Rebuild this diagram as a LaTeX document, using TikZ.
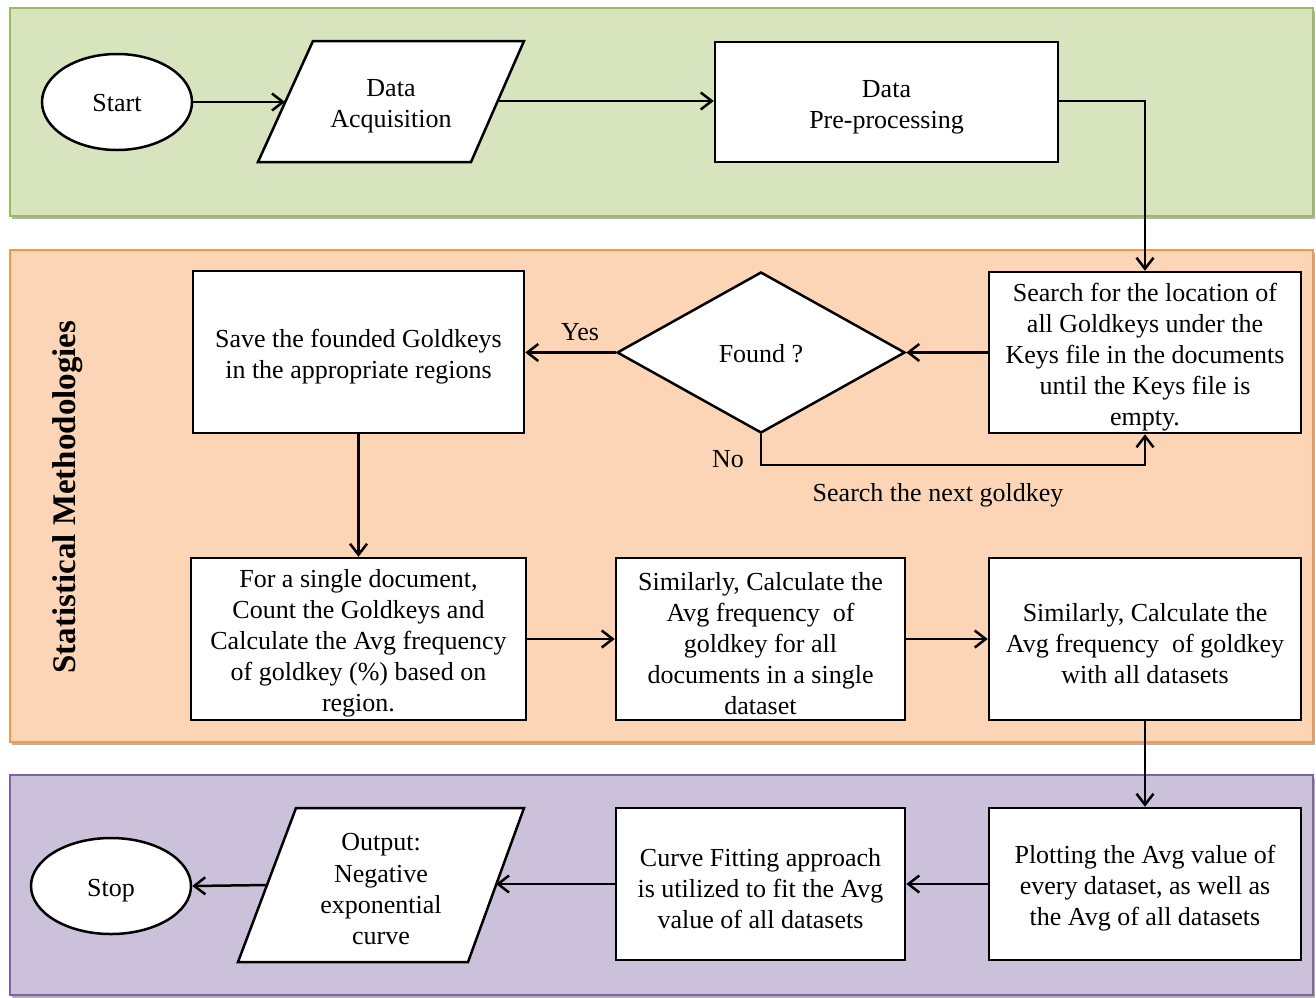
\documentclass[tikz,border=0pt]{standalone}
\usepackage{fontspec}
\setmainfont{Liberation Serif}
\usetikzlibrary{arrows.meta,shapes.geometric,shadows}
\definecolor{gfill}{HTML}{D7E4BD}
\definecolor{gline}{HTML}{9BBB59}
\definecolor{ofill}{HTML}{FBD5B5}
\definecolor{oline}{HTML}{F79646}
\definecolor{pfill}{HTML}{CCC1DA}
\definecolor{pline}{HTML}{8064A2}
\tikzset{
  band/.style={line width=1.5pt, drop shadow={shadow xshift=2pt, shadow yshift=-3pt, opacity=0.3, fill=black}},
  box/.style={draw=black, fill=white, line width=2.5pt, rectangle, inner sep=0pt, align=center, font=\txt},
  term/.style={draw=black, fill=white, line width=2.5pt, ellipse, inner sep=0pt, align=center, font=\txt},
  dec/.style={draw=black, fill=white, line width=2.5pt, diamond, inner sep=0pt, aspect=1.8, align=center, font=\txt},
  para/.style={draw=black, fill=white, line width=2.5pt, line join=miter},
  lbl/.style={align=center, font=\txt, inner sep=0pt},
  conn/.style={line width=2.5pt, -{Straight Barb[length=11pt,width=17pt,line width=2.5pt]}},
}
\newcommand{\txt}{\fontsize{26}{31}\selectfont}
\newcommand{\tup}{\rule{0pt}{27pt}}
\begin{document}
\begin{tikzpicture}[x=1pt,y=-1pt]
\useasboundingbox (0,0) rectangle (1316,997);
% bands
\path[band, fill=gfill, draw=gline] (10,8) rectangle (1313,216);
\path[band, fill=ofill, draw=oline] (10,250) rectangle (1313,742);
\path[band, fill=pfill, draw=pline] (10,775) rectangle (1313,995);
% vertical label
\node[rotate=90, font=\bfseries\fontsize{33}{35}\selectfont] (sm) at (68,497) {Statistical Methodologies};
% top row
\node[term, minimum width=150, minimum height=96] (start) at (117,102) {\rule{0pt}{20pt}Start};
\draw[para] (313,41) -- (524,41) -- (471,162) -- (258,162) -- cycle;
\node[lbl] (acq) at (391,106) {Data\\Acquisition};
\coordinate (acqW) at (285,102);
\coordinate (acqE) at (498,101);
\node[box, minimum width=343, minimum height=120] (pre) at (886.5,102) {\tup Data\\Pre-processing};
% middle
\node[box, minimum width=312, minimum height=161] (search) at (1145,352.5) {\tup Search for the location of\\all Goldkeys under the\\Keys file in the documents\\until the Keys file is\\empty.};
\node[dec, minimum width=288, minimum height=161] (found) at (761,352.5) {\rule{0pt}{21pt}Found ?};
\node[box, minimum width=331, minimum height=162] (save) at (358.5,352) {\tup Save the founded Goldkeys\\in the appropriate regions};
\node[box, minimum width=335, minimum height=162] (single) at (358.5,639) {\tup For a single document,\\Count the Goldkeys and\\Calculate the Avg frequency\\of goldkey (\%) based on\\region.};
\node[box, minimum width=289, minimum height=162] (simA) at (760.5,639) {\tup Similarly, Calculate the\\Avg frequency\ \ of\\goldkey for all\\documents in a single\\dataset};
\node[box, minimum width=312, minimum height=162] (simB) at (1145,639) {\tup Similarly, Calculate the\\Avg frequency\ \ of goldkey\\with all datasets};
% bottom
\node[box, minimum width=312, minimum height=152] (plot) at (1145,884) {\tup Plotting the Avg value of\\every dataset, as well as\\the Avg of all datasets};
\node[box, minimum width=289, minimum height=152] (curve) at (760.5,884) {\tup Curve Fitting approach\\is utilized to fit the Avg\\value of all datasets};
\draw[para] (296,808) -- (524,808) -- (468,962) -- (238,962) -- cycle;
\node[lbl] (out) at (381,889) {Output:\\Negative\\exponential\\curve};
\coordinate (outE) at (496,884);
\coordinate (outW) at (267,885);
\node[term, minimum width=160, minimum height=96] (stop) at (111,886) {\rule{0pt}{27pt}Stop};
% connectors
\draw[conn] (start.east) -- (acqW);
\draw[conn] (acqE) -- (pre.west |- acqE);
\draw[conn] (pre.east |- 0,101) -| (search.north);
\draw[conn] (search.west) -- (found.east);
\draw[conn] (found.west) -- (save.east |- found.west);
\node[lbl] (yes) at (580,332) {Yes};
\coordinate (loop) at (761,465);
\draw[conn] (found.south) -- (loop) -| (search.south);
\node[lbl] (no) at (728,459) {No};
\node[lbl] (next) at (938,495) {Search the next goldkey};
\draw[conn] (save.south) -- (single.north);
\draw[conn] (single.east) -- (simA.west);
\draw[conn] (simA.east) -- (simB.west);
\draw[conn] (simB.south) -- (plot.north);
\draw[conn] (plot.west) -- (curve.west -| plot.west) -- (curve.east);
\draw[conn] (curve.west) -- (outE);
\draw[conn] (outW) -- (stop.east);
\end{tikzpicture}
\end{document}
